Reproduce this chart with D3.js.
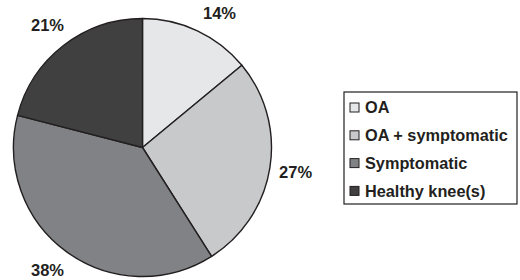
<!DOCTYPE html>
<html>
<head>
<meta charset="utf-8">
<script src="https://cdn.jsdelivr.net/npm/d3@7"></script>
<style>
  body { margin: 0; background: #fff; }
  #chart { width: 520px; height: 280px; }
</style>
</head>
<body>
<div id="chart"></div>
<script>
const categories = ["OA", "OA + symptomatic", "Symptomatic", "Healthy knee(s)"];
const shares = [14, 27, 38, 21];
const colours = ["#e6e7e9", "#c8c9cb", "#808285", "#404041"];

const width = 520, height = 280;
const cx = 142.5, cy = 147.5, radius = 129;
const labelRadius = 155;
const ink = "#231f20";

const svg = d3.select("#chart")
    .append("svg")
    .attr("width", width)
    .attr("height", height)
    .style("font-family", "'Liberation Sans', Arial, sans-serif");

const data = categories.map((c, i) => ({ name: c, value: shares[i], colour: colours[i] }));

const pie = d3.pie().value((d) => d.value).sort(null);
const arcs = pie(data);

const arc = d3.arc().innerRadius(0).outerRadius(radius);
const labelArc = d3.arc().innerRadius(labelRadius).outerRadius(labelRadius);

// keep labels inside the page: slide along the label circle if too close to top/bottom
const topLimit = 13 - cy, bottomLimit = 270 - cy;
function labelPos(d) {
    let [x, y] = labelArc.centroid(d);
    const lim = y < topLimit ? topLimit : y > bottomLimit ? bottomLimit : null;
    if (lim !== null) {
        y = lim;
        x = Math.sign(x) * Math.sqrt(labelRadius * labelRadius - y * y);
    }
    return [x, y];
}

const g = svg.append("g").attr("transform", `translate(${cx},${cy})`);

g.selectAll("path")
    .data(arcs)
    .enter()
    .append("path")
    .attr("d", arc)
    .attr("fill", (d) => d.data.colour)
    .attr("stroke", ink)
    .attr("stroke-width", 1.4)
    .attr("stroke-linejoin", "round");

g.selectAll("text")
    .data(arcs)
    .enter()
    .append("text")
    .attr("transform", (d) => `translate(${labelPos(d)})`)
    .attr("text-anchor", "middle")
    .attr("dy", "0.35em")
    .attr("fill", ink)
    .style("font-size", "16.5px")
    .style("font-weight", "bold")
    .text((d) => d.data.value + "%");

// legend
const legend = svg.append("g").attr("transform", "translate(344,92)");
legend.append("rect")
    .attr("width", 173)
    .attr("height", 112)
    .attr("fill", "#fff")
    .attr("stroke", ink)
    .attr("stroke-width", 1.2);

const rows = legend.selectAll("g.row")
    .data(data)
    .enter()
    .append("g")
    .attr("class", "row")
    .attr("transform", (d, i) => `translate(6,${15.5 + i * 27.8})`);

rows.append("rect")
    .attr("x", 0)
    .attr("y", -4.5)
    .attr("width", 9)
    .attr("height", 9)
    .attr("fill", (d) => d.colour)
    .attr("stroke", ink)
    .attr("stroke-width", 1);

rows.append("text")
    .attr("x", 15)
    .attr("dy", "0.35em")
    .attr("fill", ink)
    .style("font-size", "16.3px")
    .style("font-weight", "bold")
    .text((d) => d.name);
</script>
</body>
</html>
